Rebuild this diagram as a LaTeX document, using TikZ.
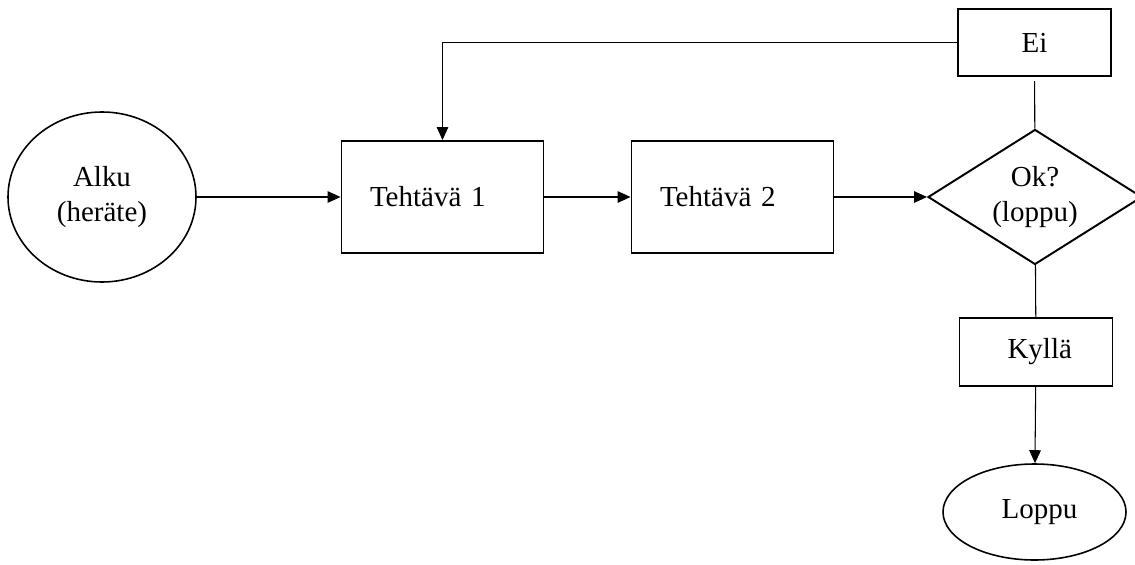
\documentclass[tikz,border=0pt]{standalone}
\usepackage{fontspec}
\setmainfont{Liberation Serif}
\usepackage{tikz}
\usetikzlibrary{arrows.meta,shapes.geometric}
\newcommand\Y{7.34}

\begin{document}
\begin{tikzpicture}[->,>={Triangle[length=7.4pt,width=6.6pt]},line width=0.6pt,
                    font=\fontsize{16.5}{19.8}\selectfont]

  \tikzstyle{every node}=[align=center]
  \tikzstyle{task}=[rectangle,draw,line width=1.1pt,align=left,text width=2.9cm,
                    inner xsep=0.57cm,minimum height=2.24cm]
  \tikzstyle{answer}=[rectangle,draw,line width=1.1pt,minimum width=3.06cm,minimum height=1.35cm]
  \tikzstyle{terminal}=[ellipse,draw,line width=0.9pt,inner sep=0pt]
  \tikzstyle{decision}=[diamond,draw,line width=1.1pt,inner sep=0pt,shape aspect=1.6,
                        minimum width=4.28cm,minimum height=2.7cm]

  \useasboundingbox (0,0) rectangle (22.7,11.28);

  \node[terminal,minimum width=3.76cm,minimum height=3.4cm] (alku) at (2.04,\Y) {Alku\\(heräte)};
  \node[task]     (t1)    at (8.85,\Y)     {Tehtävä 1};
  \node[task]     (t2)    at (14.65,\Y)    {Tehtävä 2};
  \node[decision] (ok)    at (20.7,\Y)     {Ok?\\(loppu)};
  \node[answer]   (ei)    at (20.69,10.43) {Ei};
  \node[answer]   (kylla) at (20.72,4.24)  {\hspace{0.15cm}Kyllä};
  \node[terminal,minimum width=3.66cm,minimum height=1.92cm] (loppu) at (20.69,1.04) {\hspace{0.2cm}Loppu};

  \path
  (alku)  edge                      (t1)
  (t1)    edge                      (t2)
  (t2)    edge                      (ok)
  (ei)    edge [-,shorten <=0.08cm] (ok)
  (ok)    edge [-]                  (kylla)
  (kylla) edge                      (loppu)
  ;
  \draw (ei) -| (t1);
\end{tikzpicture}
\end{document}
